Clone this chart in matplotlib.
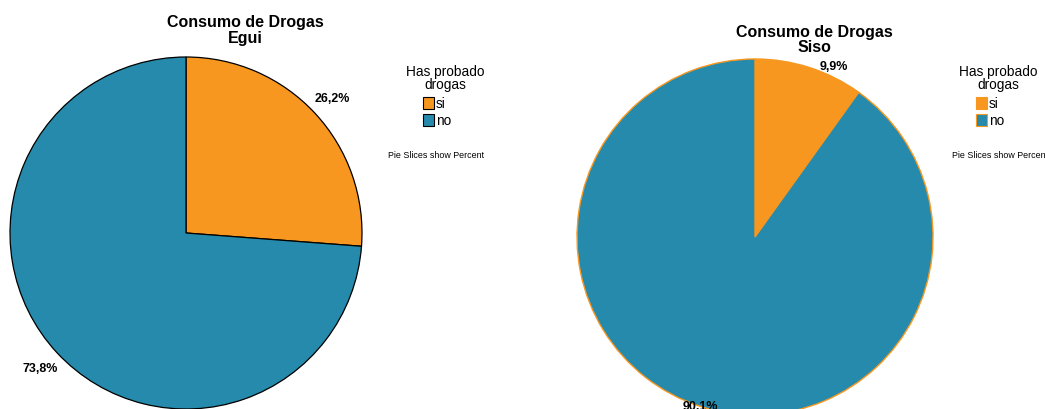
import matplotlib.pyplot as plt
import numpy as np
from matplotlib.patches import Rectangle

plt.rcParams['font.family'] = ['Liberation Sans', 'DejaVu Sans']

W, H = 1045, 410

categorias = ["si", "no"]
colores = ["#F8971F", "#258AAB"]
egui = [26.2, 73.8]
siso = [9.9, 90.1]


def fx(x):
    return x / W


def fy(y):
    return 1 - y / H


def tarta(fig, cx, cy, r, valores, borde, lw, dist):
    ax = fig.add_axes([fx(cx - r), fy(cy + r), 2 * r / W, 2 * r / H])
    wedges, _ = ax.pie(valores, colors=colores, startangle=90, counterclock=False,
                       wedgeprops=dict(edgecolor=borde, linewidth=lw))
    ang = 90
    for v, d in zip(valores, dist):
        mid = np.deg2rad(ang - v * 3.6 / 2 + d[1])
        ax.text(d[0] * np.cos(mid), d[0] * np.sin(mid),
                ("%.1f%%" % v).replace(".", ","),
                ha="center", va="center", fontsize=9, fontweight="bold")
        ang -= v * 3.6
    ax.set_xlim(-1, 1)
    ax.set_ylim(-1, 1)
    ax.axis("off")
    return ax


def leyenda(fig, x, y, borde):
    fig.text(fx(x), fy(y), "Has probado", ha="center", va="center", fontsize=9.8)
    fig.text(fx(x), fy(y + 13), "drogas", ha="center", va="center", fontsize=9.8)
    for i, (cat, col) in enumerate(zip(categorias, colores)):
        yy = y + 32 + i * 17
        fig.patches.append(Rectangle((fx(x - 22), fy(yy + 6)), 11 / W, 12 / H,
                                     transform=fig.transFigure, facecolor=col,
                                     edgecolor=borde, linewidth=0.8))
        fig.text(fx(x - 9), fy(yy), cat, ha="left", va="center", fontsize=9.8)


fig = plt.figure(figsize=(W / 100, H / 100), dpi=100)

# Egui
tarta(fig, 186, 234, 176, egui, "black", 0.9, [(1.13, 0), (1.13, 0)])
fig.text(fx(245), fy(23), "Consumo de Drogas", ha="center", va="center",
         fontsize=11.5, fontweight="bold")
fig.text(fx(245), fy(38), "Egui", ha="center", va="center",
         fontsize=11.5, fontweight="bold")
leyenda(fig, 445, 72, "black")
fig.text(fx(388), fy(156), "Pie Slices show Percent", ha="left", va="center",
         fontsize=6.4)

# Siso
tarta(fig, 755, 238, 178, siso, "#F8971F", 1.0, [(1.06, -7), (1.0, 0)])
fig.text(fx(814), fy(33), "Consumo de Drogas", ha="center", va="center",
         fontsize=11.5, fontweight="bold")
fig.text(fx(814), fy(47), "Siso", ha="center", va="center",
         fontsize=11.5, fontweight="bold")
leyenda(fig, 998, 72, "#F8971F")
fig.text(fx(952), fy(156), "Pie Slices show Percent", ha="left", va="center",
         fontsize=6.4)

fig.savefig("out.png", dpi=100)
